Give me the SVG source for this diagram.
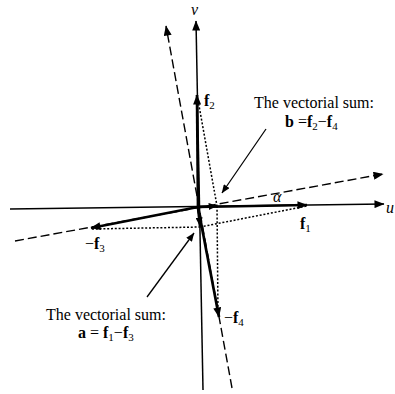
<svg xmlns="http://www.w3.org/2000/svg" width="395" height="394" viewBox="0 0 395 394">
<defs>
<style>
.ax{stroke:#000;stroke-width:1.5;fill:none}
.vec{stroke:#000;stroke-width:2.7;fill:none}
.dash{stroke:#000;stroke-width:1.4;fill:none;stroke-dasharray:9 4}
.dot{stroke:#000;stroke-width:1.5;fill:none;stroke-dasharray:2 1.8}
.lead{stroke:#000;stroke-width:1.3;fill:none}
text{font-family:"Liberation Serif","Times New Roman",serif;fill:#000}
.t{font-size:16px}
.b{font-weight:bold}
.sub{font-size:11px}
</style>
<marker id="ah" viewBox="0 0 10 8" refX="9.5" refY="4" markerWidth="11" markerHeight="8" markerUnits="userSpaceOnUse" orient="auto">
<path d="M0,0 L10,4 L0,8 z" fill="#000"/>
</marker>
<marker id="ahs" viewBox="0 0 10 8" refX="9.5" refY="4" markerWidth="9" markerHeight="7" markerUnits="userSpaceOnUse" orient="auto">
<path d="M0,0 L10,4 L0,8 z" fill="#000"/>
</marker>
</defs>
<rect width="395" height="394" fill="#fff"/>
<g id="connectors">
<line class="ax" x1="10" y1="209" x2="384" y2="204" marker-end="url(#ah)"/>
<line class="ax" x1="203" y1="390" x2="196" y2="21" marker-end="url(#ah)"/>
<line class="dash" x1="232" y1="388" x2="166" y2="26" marker-end="url(#ah)"/>
<line class="dash" x1="15" y1="241" x2="383" y2="174" marker-end="url(#ah)"/>
<line class="dot" x1="92" y1="229" x2="200" y2="227"/>
<line class="dot" x1="200" y1="227" x2="307" y2="206"/>
<line class="dot" x1="198" y1="100" x2="217" y2="206"/>
<line class="dot" x1="217" y1="206" x2="218" y2="314"/>
<line class="vec" x1="198" y1="207" x2="307" y2="205" marker-end="url(#ah)"/>
<line class="vec" x1="198" y1="207" x2="197" y2="95" marker-end="url(#ah)"/>
<line class="vec" x1="198" y1="207" x2="91" y2="228" marker-end="url(#ah)"/>
<line class="vec" x1="198" y1="207" x2="219" y2="317" marker-end="url(#ah)"/>
<line class="vec" x1="198" y1="207" x2="217" y2="206" marker-end="url(#ahs)"/>
<line class="vec" x1="198" y1="207" x2="200" y2="226" marker-end="url(#ahs)"/>
<line class="lead" x1="147" y1="297" x2="194" y2="233" marker-end="url(#ahs)"/>
<line class="lead" x1="266" y1="129" x2="222" y2="193" marker-end="url(#ahs)"/>
</g>
<g id="label-v"><text class="t" x="191" y="15" font-style="italic">v</text></g>
<g id="label-u"><text class="t" x="386" y="213" font-style="italic">u</text></g>
<g id="label-alpha"><text class="t" x="273" y="202" font-style="italic">α</text></g>
<g id="label-f1"><text class="t b" x="300" y="229">f<tspan class="sub" font-weight="normal" dy="3">1</tspan></text></g>
<g id="label-f2"><text class="t b" x="204" y="106">f<tspan class="sub" font-weight="normal" dy="3">2</tspan></text></g>
<g id="label-f3"><text class="t" x="85" y="249">−<tspan class="b">f</tspan><tspan class="sub" dy="3">3</tspan></text></g>
<g id="label-f4"><text class="t" x="224" y="323">−<tspan class="b">f</tspan><tspan class="sub" dy="3">4</tspan></text></g>
<g id="label-b">
<text class="t" x="314" y="108" text-anchor="middle">The vectorial sum:</text>
<text class="t" x="285" y="127"><tspan class="b">b</tspan> =<tspan class="b">f</tspan><tspan class="sub" dy="3">2</tspan><tspan dy="-3">−</tspan><tspan class="b">f</tspan><tspan class="sub" dy="3">4</tspan></text>
</g>
<g id="label-a">
<text class="t" x="106" y="320" text-anchor="middle">The vectorial sum:</text>
<text class="t" x="78" y="338"><tspan class="b">a</tspan> = <tspan class="b">f</tspan><tspan class="sub" dy="3">1</tspan><tspan dy="-3">−</tspan><tspan class="b">f</tspan><tspan class="sub" dy="3">3</tspan></text>
</g>
</svg>
